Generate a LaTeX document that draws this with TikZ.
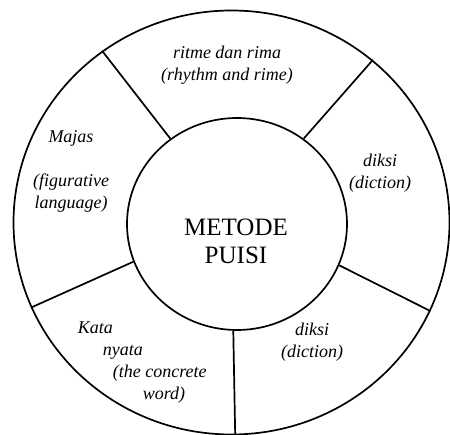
\documentclass[tikz,border=0pt]{standalone}
\usepackage{fontspec}
\usetikzlibrary{shapes.geometric}
\setmainfont{Liberation Serif}
\begin{document}
\begin{tikzpicture}[x=1pt,y=-1pt,line width=1.7pt,
  ring/.style={ellipse,draw,inner sep=0pt},
  part/.style={font=\itshape\fontsize{18}{22}\selectfont,align=center},
  hub/.style={font=\fontsize{25}{28}\selectfont,align=center}]
\useasboundingbox (0,0) rectangle (450,435);
\node[ring,minimum width=436pt,minimum height=424pt] (outer) at (231.5,222.5) {};
\node[ring,minimum width=220pt,minimum height=212pt] (inner) at (237,224) {};
\draw (inner.128)--(outer.127);
\draw (inner.52)--(outer.49);
\draw (inner.-22)--(outer.-24);
\draw (inner.-92)--(outer.-89);
\draw (inner.200)--(outer.203);

\node[hub] (metode) at (236,241.5) {METODE\\PUISI};
\node[part] (ritme) at (227,65) {ritme dan rima\\(rhythm and rime)};
\node[part] (diksia) at (380,173.5) {diksi\\(diction)};
\node[part] (diksib) at (312,342.5) {diksi\\(diction)};
\node[part] (majas) at (71,171) {Majas\\ \\(figurative\\language)};
\node[part,align=left,inner sep=0pt,anchor=west] (kata) at (77,362.5)
  {Kata\\\hspace*{25pt}nyata\\\hspace*{35pt}(the concrete\\\hspace*{65pt}word)};

\end{tikzpicture}
\end{document}
